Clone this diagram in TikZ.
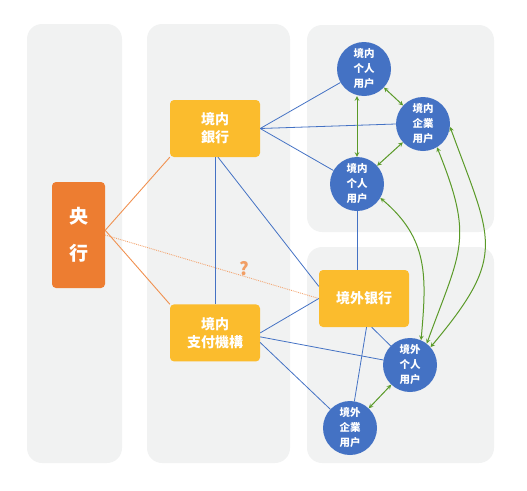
\documentclass[tikz,border=0pt]{standalone}
\usepackage{fontspec}
\setmainfont{Noto Sans CJK SC}
\usetikzlibrary{arrows,positioning}
\definecolor{panelgray}{HTML}{F1F2F2}
\definecolor{cbblue}{HTML}{4472C4}
\definecolor{cbyellow}{HTML}{FBBC2D}
\definecolor{cborange}{HTML}{ED7D31}
\definecolor{cbgreen}{HTML}{5A9A28}

\begin{document}
\begin{tikzpicture}[x=1pt,y=-1pt,>=stealth,
  instbox/.style={rectangle,rounded corners=4pt,fill=cbyellow,text=white,align=center,
    minimum width=90pt,minimum height=57pt,inner sep=0pt,font=\fontsize{14}{18}\selectfont\bfseries},
  userball/.style={circle,fill=cbblue,text=white,align=center,minimum size=54pt,inner sep=0pt,
    font=\fontsize{10.5}{15}\selectfont\bfseries},
  link/.style={cbblue,line width=0.8pt},
  flow/.style={<->,cbgreen,line width=1pt},
  policy/.style={cborange!85,line width=0.9pt}]
\useasboundingbox (0,0) rectangle (527,490);

% background columns
\fill[panelgray,rounded corners=15pt] (27,24) rectangle (122,463);
\fill[panelgray,rounded corners=15pt] (147,24) rectangle (290,463);
\fill[panelgray,rounded corners=15pt] (307,25) rectangle (494,232);
\fill[panelgray,rounded corners=15pt] (307,247) rectangle (494,463);

\node (CB) [instbox,fill=cborange,minimum width=53pt,minimum height=106pt,
  font=\fontsize{19}{37}\selectfont\bfseries] at (78.5,235) {央\\行};
\node (DB) [instbox] at (215,128.5) {境内\\銀行};
\node (DP) [instbox,below=147pt of DB] {境内\\支付機構};
\node (OB) [instbox] at (364,298.5) {境外银行};

\node (TP) [userball] at (364,69) {境内\\个人\\用户};
\node (CP) [userball] at (423,124) {境内\\企業\\用户};
\node (MP) [userball] at (357,184) {境内\\个人\\用户};
\node (OP) [userball] at (410,365) {境外\\个人\\用户};
\node (OC) [userball] at (350,428) {境外\\企業\\用户};

\draw[policy] (CB.10) -- (DB.south west);
\draw[policy] (CB.10) -- (DP.north west);
\draw[policy,densely dotted,cborange!70] (CB.east) -- node[pos=0.65,above=-3pt,text=cborange!75,
  font=\fontsize{18}{18}\selectfont\bfseries] {?} (OB.west);

\draw[link] (DB.east) -- (TP);
\draw[link] (DB.east) -- (CP.west);
\draw[link] (DB.east) -- (MP);
\draw[link] (DB.south) -- (DP.north);
\draw[link] ([xshift=3pt]DB.south) -- (OB.165);
\draw[link] (MP.south) -- (MP.south |- OB.north);
\draw[link] (DP.east) -- (OB.west);
\draw[link] (DP.-5) -- (OP);
\draw[link] (DP.-12) -- (OC);
\draw[link] (OB.-85) -- (OC);
\draw[link] (OB.-75) -- (OP);

\draw[flow] (TP) -- (CP);
\draw[flow] (MP.north) -- (MP.north |- TP.south);
\draw[flow] (MP) -- (CP);
\draw[flow] (OP) -- (OC);
\draw[flow] (MP.-31) to[out=-40,in=85,looseness=1.1] (OP.66);
\draw[flow] (CP.-59) to[out=-68,in=70,looseness=1.3] (OP.52);
\draw[flow] (CP.-6) to[out=-70,in=50,looseness=1.4] (OP.41);
\end{tikzpicture}
\end{document}
